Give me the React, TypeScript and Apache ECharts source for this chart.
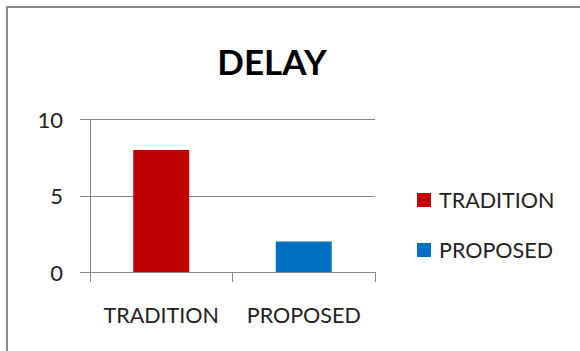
import React, { useEffect, useRef } from "react";
import * as echarts from "echarts";

const categories = ["TRADITION", "PROPOSED"];
const seriesNames = ["TRADITION", "PROPOSED"];
const traditionValues: (number | string)[] = [8, "-"];
const proposedValues: (number | string)[] = ["-", 2];
const yTicks = { min: 0, max: 10, interval: 5 };
const colors = ["#C00000", "#0070C0"];

export default function App() {
  const ref = useRef<HTMLDivElement>(null);
  useEffect(() => {
    if (!ref.current) return;
    const chart = echarts.init(ref.current, null, { renderer: "svg" });
    const font = "Lato";
    chart.setOption({
      animation: false,
      backgroundColor: "#ffffff",
      textStyle: { fontFamily: font },
      title: {
        text: "DELAY",
        left: 267,
        top: 38,
        textAlign: "center",
        textStyle: { fontFamily: font, fontWeight: "bold", fontSize: 35, color: "#000" },
      },
      legend: {
        data: seriesNames,
        orient: "vertical",
        left: 412,
        top: 184,
        itemWidth: 14,
        itemHeight: 14,
        itemGap: 28,
        icon: "rect",
        textStyle: { fontFamily: font, fontSize: 21.5, color: "#222", padding: [0, 0, 0, 3] },
      },
      grid: { left: 90, right: 205, top: 119.5, bottom: 79, containLabel: false },
      xAxis: {
        type: "category",
        data: categories,
        axisLine: { show: true, lineStyle: { color: "#868686", width: 1 } },
        axisTick: { show: true, length: 10, lineStyle: { color: "#868686" } },
        axisLabel: {
          fontFamily: font,
          fontSize: 21.5,
          color: "#222",
          margin: 32,
          interval: 0,
          hideOverlap: false,
        },
      },
      yAxis: {
        type: "value",
        min: yTicks.min,
        max: yTicks.max,
        interval: yTicks.interval,
        axisLine: { show: true, lineStyle: { color: "#868686", width: 1 } },
        axisTick: { show: true, length: 10, lineStyle: { color: "#868686" } },
        splitLine: { show: true, lineStyle: { color: "#868686", width: 1 } },
        axisLabel: { fontFamily: font, fontSize: 22, color: "#222", margin: 27 },
      },
      series: [
        {
          name: seriesNames[0],
          type: "bar",
          stack: "s",
          data: traditionValues,
          barWidth: 56,
          itemStyle: { color: colors[0] },
        },
        {
          name: seriesNames[1],
          type: "bar",
          stack: "s",
          data: proposedValues,
          barWidth: 56,
          itemStyle: { color: colors[1] },
        },
      ],
      graphic: [
        {
          type: "polyline",
          shape: { points: [[7, 351], [7, 7], [580, 7]] },
          style: { stroke: "#8c8c8c", lineWidth: 2, fill: null },
          silent: true,
        },
      ],
    });
    return () => chart.dispose();
  }, []);
  return (
    <div
      ref={ref}
      style={{ position: "absolute", left: 0, top: 0, width: 580, height: 351 }}
    />
  );
}
